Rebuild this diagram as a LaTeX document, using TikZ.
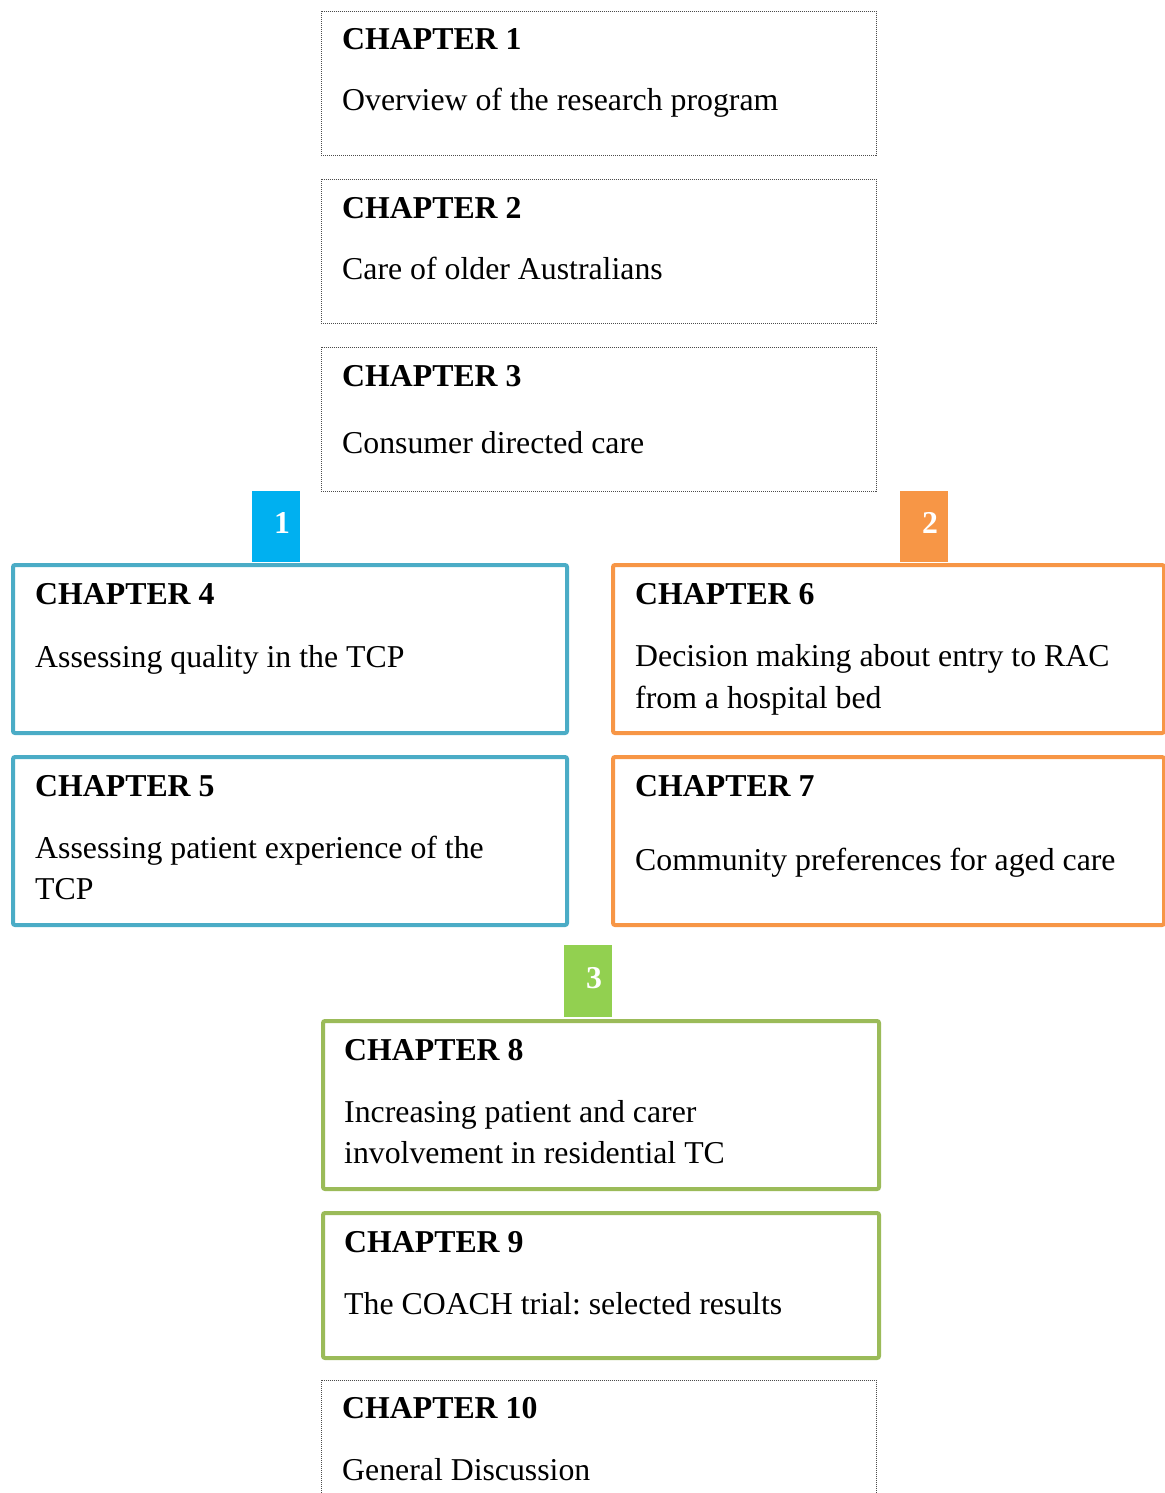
\documentclass[tikz,border=0pt]{standalone}
\usepackage{fontspec}
\setmainfont{Liberation Serif}
\frenchspacing
\definecolor{tabblue}{HTML}{00B0F0}
\definecolor{bordblue}{HTML}{4BACC6}
\definecolor{orng}{HTML}{F79646}
\definecolor{tabgreen}{HTML}{92D050}
\definecolor{bordgreen}{HTML}{9BBB59}
\begin{document}
\begin{tikzpicture}[x=1pt,y=-1pt,
  plainbox/.style={draw=black!70, line width=0.9pt, dash pattern=on 1pt off 1pt, inner sep=0pt, anchor=north west},
  colbox/.style={draw=#1, line width=4pt, rounded corners=2pt, inner sep=0pt, anchor=north west},
  tabbox/.style={fill=#1, draw=none, inner sep=0pt, anchor=north west, minimum width=48pt, minimum height=71pt},
  head/.style={anchor=base west, inner sep=0pt, font=\fontsize{31.8}{38}\selectfont\bfseries},
  body/.style={anchor=base west, inner sep=0pt, font=\fontsize{31.8}{38}\selectfont},
  tabnum/.style={anchor=base, inner sep=0pt, text=white, font=\fontsize{31.8}{38}\selectfont\bfseries}]
\useasboundingbox (0,0) rectangle (1164,1493);
% top dotted boxes
\node[plainbox, minimum width=555pt, minimum height=144pt] (b1) at (321,11) {};
\node[plainbox, minimum width=555pt, minimum height=144pt] (b2) at (321,179) {};
\node[plainbox, minimum width=555pt, minimum height=144pt] (b3) at (321,347) {};
\node[head] (h1) at (342,50) {CHAPTER 1};
\node[body] (t1) at (342,111) {Overview of the research program};
\node[head] (h2) at (342,218) {CHAPTER 2};
\node[body] (t2) at (342,279) {Care of older Australians};
\node[head] (h3) at (342,386) {CHAPTER 3};
\node[body] (t3) at (342,453) {Consumer directed care};
% tabs
\node[tabbox=tabblue] (tab1) at (252,491) {};
\node[tabnum] (n1) at (282,533) {1};
\node[tabbox=orng] (tab2) at (900,491) {};
\node[tabnum] (n2) at (930,533) {2};
\node[tabbox=tabgreen, minimum height=72pt] (tab3) at (564,945) {};
\node[tabnum] (n3) at (594,988) {3};
% blue boxes
\node[colbox=bordblue, minimum width=554pt, minimum height=168pt] (b4) at (11,563) {};
\node[colbox=bordblue, minimum width=554pt, minimum height=168pt] (b5) at (11,755) {};
\node[head] (h4) at (35,604) {CHAPTER 4};
\node[body] (t4) at (35,667) {Assessing quality in the TCP};
\node[head] (h5) at (35,796) {CHAPTER 5};
\node[body] (t5a) at (35,858) {Assessing patient experience of the};
\node[body] (t5b) at (35,899) {TCP};
% orange boxes
\node[colbox=orng, minimum width=551pt, minimum height=168pt] (b6) at (611,563) {};
\node[colbox=orng, minimum width=551pt, minimum height=168pt] (b7) at (611,755) {};
\node[head] (h6) at (635,604) {CHAPTER 6};
\node[body] (t6a) at (635,666) {Decision making about entry to RAC};
\node[body] (t6b) at (635,708) {from a hospital bed};
\node[head] (h7) at (635,796) {CHAPTER 7};
\node[body] (t7) at (635,870) {Community preferences for aged care};
% green boxes
\node[colbox=bordgreen, minimum width=556pt, minimum height=168pt] (b8) at (321,1019) {};
\node[colbox=bordgreen, minimum width=556pt, minimum height=145pt] (b9) at (321,1211) {};
\node[head] (h8) at (344,1060) {CHAPTER 8};
\node[body] (t8a) at (344,1122) {Increasing patient and carer};
\node[body] (t8b) at (344,1163) {involvement in residential TC};
\node[head] (h9) at (344,1252) {CHAPTER 9};
\node[body] (t9) at (344,1314) {The COACH trial: selected results};
% last dotted box
\node[plainbox, minimum width=555pt, minimum height=144pt] (b10) at (321,1380) {};
\node[head] (h10) at (342,1418) {CHAPTER 10};
\node[body] (t10) at (342,1480) {General Discussion};
\end{tikzpicture}
\end{document}
